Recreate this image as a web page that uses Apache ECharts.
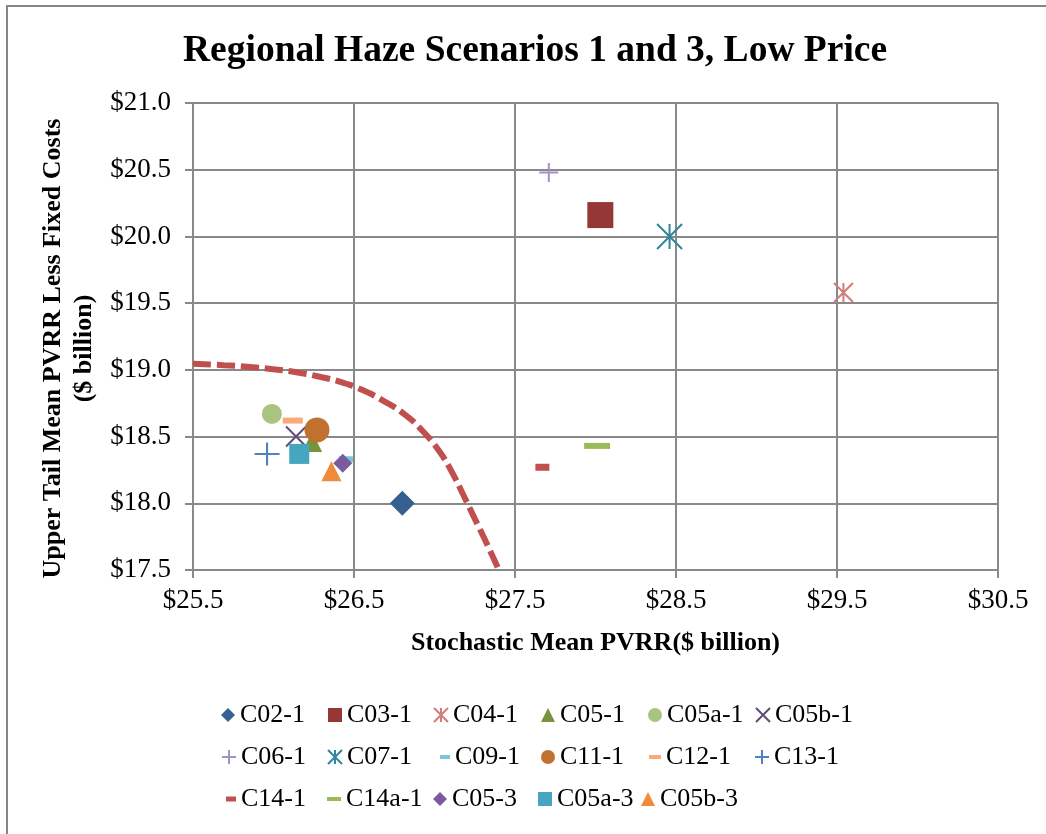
<!DOCTYPE html>
<html>
<head>
<meta charset="utf-8">
<script src="https://cdn.jsdelivr.net/npm/echarts@6/dist/echarts.min.js"></script>
<style>
html,body{margin:0;padding:0;background:#fff;}
#chart{width:1046px;height:834px;}
</style>
</head>
<body>
<div id="chart"></div>
<script>
// ---- data ----
const seriesNames = ['C02-1','C03-1','C04-1','C05-1','C05a-1','C05b-1',
  'C06-1','C07-1','C09-1','C11-1','C12-1','C13-1',
  'C14-1','C14a-1','C05-3','C05a-3','C05b-3'];
const xValues = [26.80, 28.03, 29.54, 26.24, 25.99, 26.14,
  27.71, 28.46, 26.45, 26.27, 26.12, 25.96,
  27.67, 28.01, 26.43, 26.16, 26.36];
const yValues = [18.00, 20.16, 19.58, 18.46, 18.67, 18.50,
  20.48, 20.00, 18.33, 18.55, 18.62, 18.37,
  18.27, 18.43, 18.30, 18.37, 18.24];
const frontierX = [25.5, 25.69, 25.85, 26.01, 26.15, 26.3, 26.43, 26.56, 26.68, 26.81,
  26.92, 27.03, 27.11, 27.18, 27.25, 27.32, 27.4];
const frontierY = [19.045, 19.035, 19.022, 19.003, 18.98, 18.945, 18.905, 18.845, 18.77, 18.67,
  18.55, 18.39, 18.23, 18.06, 17.885, 17.71, 17.5];
const xTicks = [25.5, 26.5, 27.5, 28.5, 29.5, 30.5];
const yTicks = [17.5, 18.0, 18.5, 19.0, 19.5, 20.0, 20.5, 21.0];

// ---- styles ----
const FONT = 'Liberation Serif';
const PLUS = 'path://M10,0V20M0,10H20';
const CROSS = 'path://M0,0L20,20M20,0L0,20';
const STAR = 'path://M0,0L20,20M20,0L0,20M10,0V20';
const styles = {
  'C02-1': {symbol:'diamond', size:25, color:'#376092'},
  'C03-1': {symbol:'rect', size:26, color:'#953735'},
  'C04-1': {symbol:STAR, size:19, color:'#D47C7A', stroke:true},
  'C05-1': {symbol:'triangle', size:20, color:'#77933C'},
  'C05a-1': {symbol:'circle', size:20, color:'#A9C47F'},
  'C05b-1': {symbol:CROSS, size:20, color:'#604A7B', stroke:true},
  'C06-1': {symbol:PLUS, size:19, color:'#A393C5', stroke:true},
  'C07-1': {symbol:STAR, size:25, color:'#31859C', stroke:true},
  'C09-1': {symbol:'rect', size:[14,6], color:'#7CC4DA', lw:10, lh:4},
  'C11-1': {symbol:'circle', size:25, color:'#C0702F'},
  'C12-1': {symbol:'rect', size:[20,6], color:'#FAAA7A', lw:12, lh:4},
  'C13-1': {symbol:PLUS, size:[25,23], color:'#4F81BD', stroke:true},
  'C14-1': {symbol:'rect', size:[14,7], color:'#C0504D', lw:10, lh:5},
  'C14a-1': {symbol:'rect', size:[26,6], color:'#9BBB59', lw:14, lh:4},
  'C05-3': {symbol:'diamond', size:19, color:'#7A5C9E'},
  'C05a-3': {symbol:'rect', size:20, color:'#46A6C0'},
  'C05b-3': {symbol:'triangle', size:20, color:'#EE8B3C'}
};
// legend layout: [icon center x, row center y]
const legendPos = {
  'C02-1':[228,715],'C03-1':[335,715],'C04-1':[440,715],'C05-1':[548,715],'C05a-1':[655,715],'C05b-1':[762,715],
  'C06-1':[228,757],'C07-1':[334,757],'C09-1':[445,757],'C11-1':[548,757],'C12-1':[655,757],'C13-1':[761,757],
  'C14-1':[231,799],'C14a-1':[334,799],'C05-3':[440,799],'C05a-3':[545,799],'C05b-3':[648,799]
};

const series = seriesNames.map((name, i) => {
  const s = styles[name];
  const itemStyle = s.stroke
    ? {color: s.color, borderColor: s.color, borderWidth: 2, opacity: 1}
    : {color: s.color, borderWidth: 0, opacity: 1};
  return {
    name: name,
    type: 'scatter',
    symbol: s.symbol,
    symbolSize: s.size,
    itemStyle: itemStyle,
    emphasis: {disabled: true},
    data: [[xValues[i], yValues[i]]],
    z: 3 + i
  };
});
series.unshift({
  name: 'Frontier',
  type: 'line',
  smooth: 0.5,
  showSymbol: false,
  lineStyle: {color: '#C0504D', width: 6, type: [18, 6], cap: 'butt'},
  data: frontierX.map((x, i) => [x, frontierY[i]]),
  z: 2
});

const legends = seriesNames.map(name => {
  const s = styles[name];
  const iw = s.lw || 14;
  const ih = s.lh || 14;
  const p = legendPos[name];
  return {
    data: [name],
    left: p[0] - iw / 2,
    top: p[1] - 13,
    itemWidth: iw,
    itemHeight: ih,
    itemGap: 0,
    padding: 0,
    selectedMode: false,
    itemStyle: {opacity: 1},
    textStyle: {fontFamily: FONT, fontSize: 26, color: '#000', padding: [0, 0, 0, 0]}
  };
});

const gridColor = '#898989';
const chart = echarts.init(document.getElementById('chart'));
chart.setOption({
  backgroundColor: '#fff',
  animation: false,
  title: {
    text: 'Regional Haze Scenarios 1 and 3, Low Price',
    left: 178,
    top: 27,
    textStyle: {fontFamily: FONT, fontSize: 37.5, fontWeight: 'bold', color: '#000'}
  },
  graphic: [{
    type: 'rect',
    shape: {x: 7, y: 6, width: 1100, height: 900},
    style: {fill: 'none', stroke: '#868686', lineWidth: 2},
    silent: true
  }],
  legend: legends,
  grid: {left: 193, top: 103, width: 805, height: 467, containLabel: false},
  xAxis: {
    type: 'value',
    min: xTicks[0],
    max: xTicks[xTicks.length - 1],
    interval: 1,
    name: 'Stochastic Mean PVRR($ billion)',
    nameLocation: 'middle',
    nameGap: 60,
    nameTextStyle: {fontFamily: FONT, fontSize: 26, fontWeight: 'bold', color: '#000'},
    axisLine: {show: true, lineStyle: {color: gridColor, width: 2}},
    axisTick: {show: true, length: 8, lineStyle: {color: gridColor, width: 2}},
    axisLabel: {fontFamily: FONT, fontSize: 27, color: '#000', margin: 17,
      formatter: v => '$' + v.toFixed(1)},
    splitLine: {show: true, lineStyle: {color: gridColor, width: 2}}
  },
  yAxis: {
    type: 'value',
    min: yTicks[0],
    max: yTicks[yTicks.length - 1],
    interval: 0.5,
    name: 'Upper Tail Mean PVRR Less Fixed Costs\n($ billion)',
    nameLocation: 'middle',
    nameGap: 88,
    nameRotate: 90,
    nameTextStyle: {fontFamily: FONT, fontSize: 26, fontWeight: 'bold', color: '#000', lineHeight: 31, align: 'center', padding: [0, 24, 0, 0]},
    axisLine: {show: true, lineStyle: {color: gridColor, width: 2}},
    axisTick: {show: true, length: 8, lineStyle: {color: gridColor, width: 2}},
    axisLabel: {fontFamily: FONT, fontSize: 27, color: '#000', margin: 22,
      formatter: v => '$' + v.toFixed(1)},
    splitLine: {show: true, lineStyle: {color: gridColor, width: 2}}
  },
  series: series
});
</script>
</body>
</html>
